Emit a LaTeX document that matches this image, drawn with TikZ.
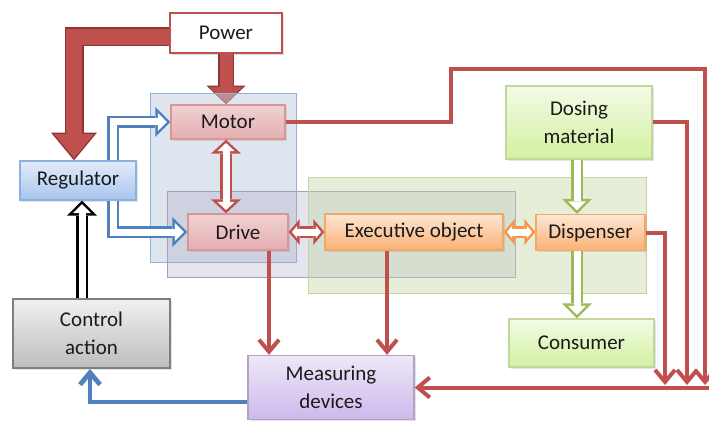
\documentclass[tikz,border=0pt]{standalone}
\usepackage{fontspec}
\setmainfont{Carlito}
\usetikzlibrary{arrows.meta,shadows,calc}
\pgfdeclarelayer{bottom}
\pgfdeclarelayer{panels}
\pgfsetlayers{bottom,panels,main}
\definecolor{lineRed}{HTML}{C0504D}
\definecolor{darkRed}{HTML}{8E3431}
\definecolor{ofBlue}{HTML}{4F81BD}
\definecolor{ofGreen}{HTML}{9BBB59}
\definecolor{ofOrange}{HTML}{F79646}
\definecolor{motT}{HTML}{F0D2D2}
\definecolor{motB}{HTML}{E3AEB0}
\definecolor{motD}{HTML}{D99694}
\definecolor{regT}{HTML}{E2ECFA}
\definecolor{regB}{HTML}{A8C5EE}
\definecolor{regD}{HTML}{8EB2DD}
\definecolor{orT}{HTML}{FDE7D4}
\definecolor{orB}{HTML}{FAB175}
\definecolor{orD}{HTML}{F5A766}
\definecolor{grT}{HTML}{F3FBE6}
\definecolor{grB}{HTML}{D2F1A0}
\definecolor{grD}{HTML}{C3D69B}
\definecolor{gyT}{HTML}{F0F0F0}
\definecolor{gyB}{HTML}{BDBDBD}
\definecolor{gyD}{HTML}{7F7F7F}
\definecolor{puT}{HTML}{EEE7F8}
\definecolor{puB}{HTML}{CDB9EC}
\definecolor{puD}{HTML}{B3A2C7}
\definecolor{pnBlue}{HTML}{BFCBDF}
\definecolor{pnBlueD}{HTML}{95B3D7}
\definecolor{pnPur}{HTML}{A8A5C0}
\definecolor{pnPurD}{HTML}{A3A0BC}
\definecolor{pnGrn}{HTML}{C1D5A3}
\definecolor{pnGrnD}{HTML}{C3D69B}
\definecolor{txt}{HTML}{1A1A1A}
\tikzset{
  box/.style={rectangle, inner sep=0pt, align=center, line width=1.3pt, text=txt,
    drop shadow={opacity=0.22, shadow xshift=1.5pt, shadow yshift=-1.8pt}},
  redbox/.style={box, draw=motD, top color=motT, bottom color=motB},
  bluebox/.style={box, draw=regD, top color=regT, bottom color=regB},
  orbox/.style={box, draw=orD, top color=orT, bottom color=orB},
  grbox/.style={box, draw=grD, top color=grT, bottom color=grB},
  gybox/.style={box, draw=gyD, line width=1.8pt, top color=gyT, bottom color=gyB},
  pubox/.style={box, draw=puD, top color=puT, bottom color=puB},
  panel/.style={rectangle, inner sep=0pt, line width=1pt},
  % single hollow arrow: head 30 x 15, border 2.5
  holo/.style={line width=12pt, draw=#1, line join=miter,
    -{Triangle[width=30pt,length=15pt,line width=0pt]},
    postaction={draw=white, line width=7pt, line join=miter,
      -{Triangle[width=17.9pt,length=8.96pt,line width=0pt]}, shorten >=3.54pt}},
  % double hollow arrow, short heads (horizontal)
  holoshort/.style={line width=12pt, draw=#1,
    {Triangle[width=26pt,length=11pt,line width=0pt]}-{Triangle[width=26pt,length=11pt,line width=0pt]},
    postaction={draw=white, line width=7pt,
      {Triangle[width=12.4pt,length=5.23pt,line width=0pt]}-{Triangle[width=12.4pt,length=5.23pt,line width=0pt]},
      shorten >=3.27pt, shorten <=3.27pt}},
  % double hollow arrow, vertical
  holotwo/.style={line width=12pt, draw=#1,
    {Triangle[width=30pt,length=14pt,line width=0pt]}-{Triangle[width=30pt,length=14pt,line width=0pt]},
    postaction={draw=white, line width=7pt,
      {Triangle[width=17.3pt,length=8.08pt,line width=0pt]}-{Triangle[width=17.3pt,length=8.08pt,line width=0pt]},
      shorten >=3.42pt, shorten <=3.42pt}},
  bigarrow/.style args={#1/#2/#3/#4}{line width=#1, draw=lineRed, line join=miter,
    -{Triangle[width=#2,length=#3,line width=0pt]}, shorten >=#4,
    preaction={draw=darkRed, line width=#1+3pt, line join=miter, shorten >=0pt,
      -{Triangle[width=#2+6pt,length=#3+#4+1.5pt,line width=0pt]}}},
  redline/.style={draw=lineRed, line width=4pt, line join=miter,
    -{Straight Barb[length=12pt,width=20pt]}},
  blueline/.style={draw=ofBlue, line width=4.8pt, line join=miter,
    -{Straight Barb[length=12pt,width=20pt]}},
}
\begin{document}
\begin{tikzpicture}[x=1pt,y=-1pt,font=\fontsize{21}{28}\selectfont]
\useasboundingbox (0,0) rectangle (709,422);

% boxes
\node[box, draw=lineRed, line width=2.5pt, fill=white, minimum width=112pt, minimum height=40pt] (power) at (226,33) {Power};
\node[redbox, minimum width=114pt, minimum height=34pt] (motor) at (228,122) {Motor};
\node[bluebox, minimum width=116pt, minimum height=39pt] (reg) at (78,180.5) {Regulator};
\node[redbox, minimum width=100pt, minimum height=36pt] (drive) at (238,232) {Drive};
\node[orbox, minimum width=178pt, minimum height=36pt] (exec) at (414,232) {Executive object};
\node[orbox, minimum width=109pt, minimum height=36pt] (disp) at (590.5,232.5) {Dispenser};
\node[grbox, minimum width=146pt, minimum height=73pt] (dosing) at (579,122.5) {Dosing\\material};
\node[grbox, minimum width=145pt, minimum height=48pt] (consumer) at (581.5,343) {Consumer};
\node[gybox, minimum width=157pt, minimum height=69pt] (control) at (91.5,333.5) {Control\\action};
\node[pubox, minimum width=166pt, minimum height=64pt] (meas) at (331,387.5) {Measuring\\devices};

% panels
\begin{pgfonlayer}{panels}
\node[panel, draw=pnBlueD, fill=pnBlue, fill opacity=0.5, minimum width=146pt, minimum height=168pt] (bluepanel) at (223,178) {};
\node[panel, draw=pnPurD, fill=pnPur, fill opacity=0.3, minimum width=348pt, minimum height=85pt] (purpanel) at (341,234.5) {};
\node[panel, draw=pnGrnD, fill=pnGrn, fill opacity=0.4, minimum width=338pt, minimum height=115pt] (grnpanel) at (477,235.5) {};
\end{pgfonlayer}

% thick power arrows
\draw[bigarrow={16pt/40pt/24pt/2.3pt}] ([yshift=-4pt]power.west) -| ([xshift=-4pt]reg.north);
\begin{pgfonlayer}{bottom}
\draw[bigarrow={13pt/33pt/15pt/2.2pt}] (power.south) -- (power.south |- motor.north);
\end{pgfonlayer}

% hollow arrows
\draw[holo=ofBlue] ([xshift=35pt]reg.north) |- (motor.west);
\draw[holo=ofBlue] ([xshift=35pt]reg.south) |- (drive.west);
\draw[holo=black] ([xshift=-9.5pt]control.north) -- ([xshift=-9.5pt]control.north |- reg.south);
\draw[holotwo=lineRed] ([xshift=-2pt]motor.south) -- ([xshift=-2pt]motor.south |- drive.north);
\draw[holoshort=lineRed] (drive.east) -- (exec.west);
\draw[holoshort=ofOrange] (exec.east) -- (exec.east -| disp.west);
\draw[holo=ofGreen] ([xshift=-2pt]dosing.south) -- ([xshift=-2pt]dosing.south |- disp.north);
\draw[holo=ofGreen] ([xshift=-13.5pt]disp.south) -- ([xshift=-13.5pt]disp.south |- consumer.north);

% thin lines
\coordinate (jog) at (451,69);
\coordinate (dropA) at (705,385);
\coordinate (dropB) at (687,385);
\coordinate (dropC) at (665,385);
\coordinate (busE) at (709,387.5);
\draw[redline] (motor.east) -| (jog) -| (dropA);
\draw[redline] (dosing.east) -| (dropB);
\draw[redline] (disp.east) -| (dropC);
\draw[redline] (busE) -- (meas.east);
\draw[redline] ([xshift=31pt]drive.south) -- ([xshift=31pt]drive.south |- meas.north);
\draw[redline] ([xshift=-27pt]exec.south) -- ([xshift=-27pt]exec.south |- meas.north);
\draw[blueline] ([yshift=-14.5pt]meas.west) -| ([xshift=-1.5pt]control.south);
\end{tikzpicture}
\end{document}
